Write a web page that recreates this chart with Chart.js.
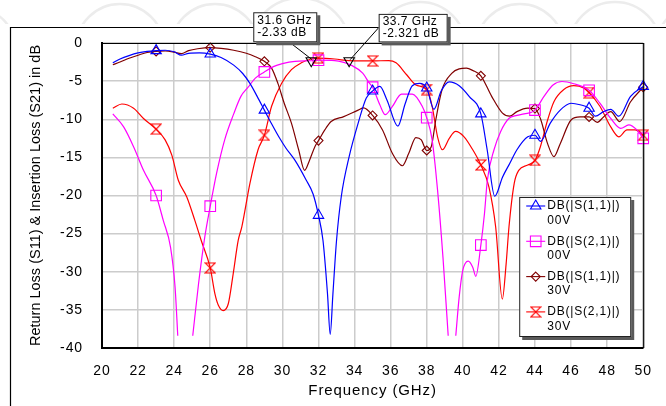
<!DOCTYPE html>
<html>
<head>
<meta charset="utf-8">
<script src="https://cdn.jsdelivr.net/npm/chart.js@4.4.1/dist/chart.umd.min.js"></script>
<style>
  html, body { margin: 0; padding: 0; background: #fff; }
  #c { display: block; }
</style>
</head>
<body>
<canvas id="c" width="666" height="406"></canvas>
<script>
// ---- Swept S-parameters of the varactor-tuned filter (frequency in GHz, level in dB) ----
const freqS11_00V = [20.6,21.0,21.5,22.0,22.5,23.0,23.5,24.0,24.4,24.8,25.4,26.0,26.6,27.3,27.8,28.2,28.6,29.0,29.4,29.8,30.2,30.7,31.3,31.7,32.0,32.25,32.5,32.65,32.8,33.0,33.26,33.7,34.2,34.65,35.0,35.4,35.8,36.4,36.8,37.2,37.6,38.0,38.4,38.8,39.25,39.8,40.35,41.0,41.35,41.77,42.2,42.6,43.0,43.6,44.0,44.3,44.85,45.4,46.0,46.5,47.0,47.35,47.8,48.2,48.65,49.3,50.0];
const dbS11_00V   = [-2.6,-2.1,-1.65,-1.3,-1.1,-1.0,-0.95,-1.15,-1.6,-1.35,-1.3,-1.45,-1.9,-2.9,-4.0,-5.3,-7.0,-8.8,-10.6,-12.3,-13.8,-15.4,-17.9,-19.8,-22.6,-25.9,-32.9,-38.2,-32.9,-25.9,-20.2,-14.9,-10.5,-7.2,-6.3,-5.7,-7.5,-10.9,-8.0,-5.6,-5.3,-5.9,-8.7,-6.3,-5.1,-5.6,-7.0,-9.3,-14.0,-20.1,-17.6,-15.8,-14.0,-12.3,-12.1,-12.9,-10.5,-8.8,-7.9,-8.1,-8.55,-9.6,-9.0,-8.7,-9.6,-7.0,-5.7];

const freqS21_00V = [20.6,21.2,21.75,22.3,23.0,23.4,23.8,24.05,24.2,24.6,25.03,25.35,25.7,26.0,26.35,26.8,27.3,27.7,28.1,28.5,29.0,29.5,30.0,30.7,31.6,32.0,32.9,33.4,33.8,34.45,34.8,35.0,35.4,35.7,36.1,36.6,37.2,37.75,38.0,38.3,38.6,38.9,39.19,39.4,39.61,39.8,40.0,40.3,40.55,40.72,41.0,41.2,41.36,41.73,42.1,42.55,43.0,43.4,44.0,44.5,45.0,45.5,46.15,47.0,47.6,48.2,48.75,49.2,49.65,50.0];
const dbS21_00V   = [-9.3,-11.0,-13.6,-16.7,-20.0,-23.3,-26.8,-32.0,-38.4,null,-38.4,-31.6,-25.4,-21.4,-17.1,-12.7,-9.3,-7.0,-5.8,-4.6,-3.8,-3.1,-2.7,-2.4,-2.33,-2.25,-2.3,-2.55,-2.9,-3.95,-5.2,-5.8,-8.1,-9.4,-8.3,-6.7,-6.7,-8.3,-9.8,-12.7,-19.3,-28.1,-38.4,null,-38.4,-33.3,-29.8,-28.6,-29.4,-30.6,-26.5,-22.4,-18.0,-14.0,-11.6,-9.9,-9.5,-9.3,-8.8,-7.0,-5.5,-5.05,-5.35,-6.2,-7.9,-9.9,-11.2,-10.75,-11.4,-12.5];

const freqS11_30V = [20.6,21.0,21.5,22.0,22.5,23.0,23.5,24.0,24.4,24.8,25.3,26.0,26.6,27.3,28.0,28.5,29.0,29.4,29.75,30.1,30.5,30.9,31.23,31.5,31.8,32.0,32.35,32.7,33.4,34.2,34.5,35.0,35.55,36.1,36.65,37.0,37.4,37.7,38.0,38.25,38.5,38.85,39.4,39.8,40.2,40.55,41.0,41.6,42.2,42.6,43.0,43.6,44.0,44.3,44.7,45.05,45.4,46.0,46.5,47.0,47.45,47.8,48.2,48.7,49.3,50.0];
const dbS11_30V   = [-2.85,-2.5,-2.0,-1.6,-1.25,-1.1,-1.05,-1.2,-1.4,-1.0,-0.75,-0.6,-0.7,-0.95,-1.35,-1.8,-2.4,-3.3,-5.3,-7.9,-10.5,-14.0,-16.7,-15.4,-13.6,-12.8,-11.4,-10.3,-9.65,-8.8,-8.5,-9.5,-11.4,-14.5,-16.1,-14.5,-12.4,-12.7,-14.1,-13.6,-10.1,-6.1,-3.95,-3.4,-3.3,-3.6,-4.3,-7.0,-9.2,-9.6,-9.0,-8.55,-8.6,-9.9,-13.2,-14.9,-13.2,-10.1,-9.7,-9.7,-10.4,-9.7,-9.0,-10.3,-7.7,-5.8];

const freqS21_30V = [20.6,21.1,21.75,22.3,23.0,23.5,23.87,24.23,24.7,25.15,25.5,26.0,26.26,26.45,26.72,27.0,27.27,27.55,27.75,28.2,28.65,29.0,29.4,29.95,30.5,31.05,31.6,32.0,32.9,33.7,34.3,35.0,35.9,36.3,36.9,37.4,38.0,38.3,38.6,38.87,39.25,39.6,40.07,40.55,41.0,41.45,41.82,42.19,42.4,42.56,42.85,43.1,43.6,44.0,44.3,44.7,45.05,45.6,46.15,46.7,47.0,47.6,48.2,48.65,49.1,49.55,50.0];
const dbS21_30V   = [-8.55,-8.0,-8.55,-9.9,-11.3,-12.7,-14.7,-18.0,-20.2,-23.3,-25.9,-29.5,-32.9,-34.4,-35.1,-34.2,-30.3,-25.9,-24.1,-18.4,-14.0,-12.1,-8.3,-5.3,-3.5,-2.6,-2.1,-1.98,-2.1,-2.321,-2.35,-2.35,-2.3,-2.6,-4.2,-5.5,-6.1,-8.3,-12.3,-14.0,-12.5,-11.6,-12.3,-14.0,-16.0,-18.9,-24.1,-33.6,-29.0,-24.1,-18.4,-16.7,-16.0,-15.4,-13.6,-10.1,-7.7,-6.1,-5.6,-5.9,-6.5,-8.3,-11.0,-12.3,-11.4,-11.4,-12.1];

// frequencies that carry a trace symbol
const symbolFreqs = [23, 26, 29, 32, 35, 38, 41, 44, 47, 50];

// marker readouts
const readoutFreqs = [31.6, 33.7];
const readoutDb    = [-2.33, -2.321];

// legend text
const traceNames = ['DB(|S(1,1)|)', 'DB(|S(2,1)|)', 'DB(|S(1,1)|)', 'DB(|S(2,1)|)'];
const traceBias  = ['00V', '00V', '30V', '30V'];

// axis ticks and titles
const xTickStep = 2, xMin = 20, xMax = 50;
const yTickStep = 5, yMin = -40, yMax = 0;
const xTitle = 'Frequency (GHz)';
const yTitle = 'Return Loss (S11) & Insertion Loss (S21) in dB';

// ---- drawing helpers ----
const FONT = '"Liberation Sans", Arial, sans-serif';
const colors = ['#0000ff', '#ff00ff', '#800000', '#ff0000'];

function makeHourglass(color, size) {
  const cv = document.createElement('canvas');
  cv.width = size; cv.height = size;
  const g = cv.getContext('2d');
  g.strokeStyle = color; g.lineWidth = 1.1;
  const a = 1, b = size - 1;
  g.beginPath();
  g.moveTo(a, a); g.lineTo(b, a); g.lineTo(a, b); g.lineTo(b, b); g.closePath();
  g.stroke();
  return cv;
}
const hourglass = makeHourglass('#ff0000', 12);

const styles = [
  { pointStyle: 'triangle', radius: 6, rotation: 0 },
  { pointStyle: 'rect', radius: 7.5, rotation: 0 },
  { pointStyle: 'rectRot', radius: 4.5, rotation: 0 },
  { pointStyle: hourglass, radius: 5, rotation: 0 }
];

function zip(fs, ds) { return fs.map((f, i) => ({ x: f, y: ds[i] })); }
const isSymbol = (x) => symbolFreqs.some(s => Math.abs(s - x) < 1e-6);

const series = [
  zip(freqS11_00V, dbS11_00V),
  zip(freqS21_00V, dbS21_00V),
  zip(freqS11_30V, dbS11_30V),
  zip(freqS21_30V, dbS21_30V)
];

const datasets = series.map((d, i) => ({
  label: traceNames[i] + ' ' + traceBias[i],
  data: d,
  borderColor: colors[i],
  backgroundColor: 'rgba(0,0,0,0)',
  borderWidth: 1.2,
  pointBorderColor: colors[i],
  pointBackgroundColor: 'rgba(0,0,0,0)',
  pointBorderWidth: 1.1,
  pointStyle: styles[i].pointStyle,
  pointRotation: styles[i].rotation,
  pointRadius: (c) => (c.raw && isSymbol(c.raw.x)) ? styles[i].radius : 0,
  cubicInterpolationMode: 'monotone',
  spanGaps: false,
  clip: false
}));

// readout markers (inverted triangles)
datasets.unshift({
  label: 'markers',
  data: zip(readoutFreqs, readoutDb),
  showLine: false,
  pointStyle: 'triangle',
  pointRotation: 180,
  pointRadius: 6,
  pointBorderColor: '#000',
  pointBackgroundColor: 'rgba(0,0,0,0)',
  pointBorderWidth: 1.1,
  clip: false
});

function drawLegendSymbol(ctx, i, x, y) {
  const st = styles[i];
  ctx.save();
  ctx.strokeStyle = colors[i];
  ctx.lineWidth = 1.1;
  ctx.beginPath();
  if (st.pointStyle === 'triangle') {
    const r = st.radius;
    ctx.moveTo(x, y - r);
    ctx.lineTo(x + r * Math.sin(Math.PI / 3), y + r / 2);
    ctx.lineTo(x - r * Math.sin(Math.PI / 3), y + r / 2);
    ctx.closePath(); ctx.stroke();
  } else if (st.pointStyle === 'rect') {
    const s = st.radius * Math.SQRT1_2;
    ctx.rect(x - s, y - s, 2 * s, 2 * s); ctx.stroke();
  } else if (st.pointStyle === 'rectRot') {
    const r = st.radius;
    ctx.moveTo(x, y - r); ctx.lineTo(x + r, y); ctx.lineTo(x, y + r); ctx.lineTo(x - r, y);
    ctx.closePath(); ctx.stroke();
  } else {
    ctx.drawImage(st.pointStyle, x - st.pointStyle.width / 2, y - st.pointStyle.height / 2);
  }
  ctx.restore();
}

function shadowBox(ctx, x, y, w, h) {
  ctx.fillStyle = '#5a5a5a';
  ctx.fillRect(x + 3, y + 3, w, h);
  ctx.fillStyle = '#ffffff';
  ctx.fillRect(x, y, w, h);
  ctx.strokeStyle = '#222';
  ctx.lineWidth = 1;
  ctx.strokeRect(x + 0.5, y + 0.5, w - 1, h - 1);
}

const decor = {
  id: 'decor',
  beforeDraw(chart) {
    const ctx = chart.ctx;
    ctx.save();
    ctx.fillStyle = '#fff';
    ctx.fillRect(0, 0, chart.width, chart.height);
    // faint page emblem band along the top
    ctx.beginPath(); ctx.rect(0, 0, chart.width, 24); ctx.clip();
    ctx.strokeStyle = '#ececec';
    ctx.lineWidth = 2.5;
    [[-25, 40], [120, 44], [215, 44], [300, 50], [420, 46], [520, 44], [615, 46], [700, 44]].forEach(([cx, r]) => {
      ctx.beginPath(); ctx.arc(cx, 48, r, 0, Math.PI * 2); ctx.stroke();
    });
    ctx.restore();
    // page frame
    ctx.save();
    ctx.strokeStyle = '#000';
    ctx.lineWidth = 1.2;
    ctx.beginPath();
    ctx.moveTo(10.5, chart.height); ctx.lineTo(10.5, 27.5); ctx.lineTo(chart.width, 27.5);
    ctx.stroke();
    ctx.restore();
    ctx.letterSpacing = '0.9px';
  },
  afterDraw(chart) {
    const ctx = chart.ctx;
    const a = chart.chartArea;
    const xs = chart.scales.x, ys = chart.scales.y;
    ctx.save();
    // top and right edges of the plot frame
    ctx.strokeStyle = '#000';
    ctx.lineWidth = 1.2;
    ctx.beginPath();
    ctx.moveTo(a.left, a.top + 0.5); ctx.lineTo(a.right + 0.5, a.top + 0.5); ctx.lineTo(a.right + 0.5, a.bottom);
    ctx.stroke();

    // vertical axis title
    ctx.save();
    ctx.translate(39.5, (a.top + a.bottom) / 2);
    ctx.rotate(-Math.PI / 2);
    ctx.font = '14.5px ' + FONT;
    ctx.letterSpacing = '0px';
    ctx.fillStyle = '#000';
    ctx.textAlign = 'center';
    ctx.textBaseline = 'alphabetic';
    ctx.fillText(yTitle, 0, 0);
    ctx.restore();

    // legend
    const lx = a.right - 124, ly = a.top + 154, lw = 112, lh = 140;
    shadowBox(ctx, lx, ly, lw, lh);
    ctx.font = '12px ' + FONT;
    ctx.letterSpacing = '0.8px';
    ctx.fillStyle = '#000';
    ctx.textBaseline = 'middle';
    ctx.textAlign = 'left';
    for (let i = 0; i < 4; i++) {
      const y1 = ly + 9 + i * 35.3;
      ctx.strokeStyle = colors[i];
      ctx.lineWidth = 1.1;
      ctx.beginPath(); ctx.moveTo(lx + 7, y1); ctx.lineTo(lx + 26, y1); ctx.stroke();
      drawLegendSymbol(ctx, i, lx + 16.5, y1);
      ctx.fillStyle = '#000';
      ctx.fillText(traceNames[i], lx + 28, y1);
      ctx.fillText(traceBias[i], lx + 28, y1 + 14.5);
    }

    // marker readout boxes
    const boxes = [
      { dx: -58, dy: -48.5, w: 64, h: 30, lead: [-21.7, -18.5] },
      { dx: 29.5, dy: -46.8, w: 69, h: 28.5, lead: [29.5, -33] }
    ];
    readoutFreqs.forEach((f, i) => {
      const mx = xs.getPixelForValue(f), my = ys.getPixelForValue(readoutDb[i]);
      const b = boxes[i];
      ctx.strokeStyle = '#000';
      ctx.lineWidth = 1;
      ctx.beginPath(); ctx.moveTo(mx + b.lead[0], my + b.lead[1]); ctx.lineTo(mx + 1, my - 1); ctx.stroke();
      shadowBox(ctx, mx + b.dx, my + b.dy, b.w, b.h);
      ctx.font = '12px ' + FONT;
      ctx.letterSpacing = '0.5px';
      ctx.fillStyle = '#000';
      ctx.textBaseline = 'middle';
      ctx.textAlign = 'left';
      ctx.fillText(f + ' GHz', mx + b.dx + 4, my + b.dy + 8);
      ctx.fillText(readoutDb[i] + ' dB', mx + b.dx + 4, my + b.dy + 20);
    });
    ctx.restore();
  }
};

new Chart(document.getElementById('c'), {
  type: 'line',
  data: { datasets },
  options: {
    responsive: false,
    animation: false,
    events: [],
    layout: { padding: { top: 43, right: 21, bottom: 0, left: 0 } },
    plugins: { legend: { display: false }, tooltip: { enabled: false } },
    scales: {
      x: {
        type: 'linear', min: xMin, max: xMax,
        ticks: { stepSize: xTickStep, autoSkip: false, maxRotation: 0, color: '#000', padding: 15,
                 font: { family: FONT, size: 14 } },
        grid: { color: '#cccccc', lineWidth: 1.5, drawTicks: false },
        border: { color: '#000', width: 2 },
        title: { display: true, text: xTitle, color: '#000',
                 font: { family: FONT, size: 15 }, padding: { top: 0, bottom: 6 } },
        afterFit: (s) => { s.height = 58; }
      },
      y: {
        min: yMin, max: yMax,
        ticks: { stepSize: yTickStep, color: '#000', padding: 19,
                 font: { family: FONT, size: 14 } },
        grid: { color: '#cccccc', lineWidth: 1.5, drawTicks: false },
        border: { color: '#000', width: 2 },
        title: { display: false },
        afterFit: (s) => { s.width = 102; }
      }
    }
  },
  plugins: [decor]
});
</script>
</body>
</html>
